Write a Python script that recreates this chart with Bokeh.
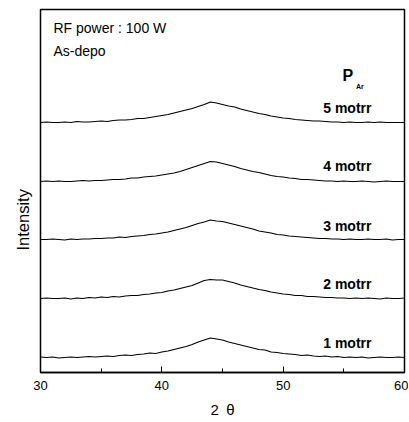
import math
from bokeh.plotting import figure
from bokeh.models import Range1d, FixedTicker, Label, Title
from bokeh.embed import file_html
from bokeh.resources import INLINE

# 2-theta grid (degrees)
theta = [30.0 + 0.5 * i for i in range(61)]

# hump intensities above each curve's own baseline (arbitrary units)
s1 = [0.5, 0, 0.5, -0.5, 0, 0.5, 0, 0.5, 1, 0.5,
      1, 1.5, 1, 2, 2.5, 2, 3, 3.5, 4.5, 4,
      5.5, 6.5, 8, 9.5, 11, 13, 15.5, 17.5, 19.5, 18.5,
      17.5, 15.5, 14, 12.5, 11, 9.5, 8, 7.5, 5.5, 5,
      4, 3.5, 3, 2, 2.5, 1.5, 1, 1.5, 0.5, 1,
      0, 0.5, 0, 0.5, -0.5, 0, 0.5, 0, 0, 0.5,
      0]
s2 = [0, 0.5, 0, 0, 0.5, -0.5, 0.5, 0, 1, 0.5,
      1.5, 1, 2, 1.5, 2.5, 3, 3, 4, 4.5, 5.5,
      6, 7.5, 8.5, 10, 11.5, 13, 15.5, 18, 19, 18.5,
      18.5, 17, 15.5, 13.5, 12, 10.5, 9, 8, 6.5, 5.5,
      4.5, 4, 3, 3, 2, 2, 1.5, 1, 1, 0.5,
      0.5, 0, 0.5, 0, 0.5, 0, -0.5, 0.5, 0, 0,
      0.5]
s3 = [0, 0, 0.5, 0, -0.5, 0.5, 0, 0.5, 0.5, 1,
      1, 1.5, 1.5, 2.5, 2, 3, 3.5, 4, 5, 5.5,
      6.5, 7.5, 9, 10.5, 12, 14, 16, 17.5, 19.5, 18.5,
      18, 16.5, 15, 13.5, 12, 10.5, 8.5, 7.5, 6.5, 5,
      4.5, 3.5, 3, 2.5, 2, 1.5, 1, 1, 0.5, 0.5,
      0, 0.5, 0, 0, 0.5, 0, 0, 0.5, -0.5, 0,
      0]
s4 = [0, 0.5, 0, 0.5, 0, 0, 0.5, 1, 0.5, 1,
      1, 1.5, 2, 2, 2.5, 3.5, 3.5, 4.5, 5, 5.5,
      6.5, 7.5, 8.5, 10, 12, 14, 16, 18, 20, 19.5,
      18, 16.5, 15, 13, 11.5, 10, 9, 7.5, 6, 5,
      4.5, 3.5, 3, 2, 2, 1.5, 1, 0.5, 0.5, 0,
      0.5, 0, 0, 0.5, 0, -0.5, 0, 0.5, 0, 0,
      0]
s5 = [0, 0.5, 0, 0, 0.5, 0, 1, 0.5, 0.5, 1,
      1.5, 1, 2, 2.5, 2.5, 3, 4, 4, 5, 6,
      7, 8, 9.5, 11, 12.5, 14, 16, 18, 20.5, 19.5,
      18, 16.5, 15.5, 13.5, 12, 10.5, 9, 8, 6.5, 5.5,
      4.5, 4, 3, 2.5, 2, 1.5, 1.5, 1, 0.5, 0.5,
      0, 0.5, 0, 0, 0.5, 0, 0.5, 0, 0, 0,
      0]
series = [s1, s2, s3, s4, s5]
offsets = [15, 74, 133, 191, 250]
names = ["1 motrr", "2 motrr", "3 motrr", "4 motrr", "5 motrr"]
label_y = [22, 81, 139, 199, 257]

xticks = [30, 40, 50, 60]

p = figure(width=408, height=420, output_backend="svg", toolbar_location=None,
           x_range=Range1d(30, 60), y_range=Range1d(0, 363),
           min_border_left=40, min_border_right=4, min_border_top=9,
           min_border_bottom=48)
p.grid.visible = False
p.background_fill_color = "white"
p.border_fill_color = "white"
p.outline_line_color = "black"
p.outline_line_width = 1.5
p.yaxis.visible = False

ax = p.xaxis[0]
ax.ticker = FixedTicker(ticks=xticks, minor_ticks=[35, 45, 55])
ax.axis_line_color = "black"
ax.axis_line_width = 1.5
ax.major_tick_in = 6
ax.major_tick_out = 0
ax.minor_tick_in = 4
ax.minor_tick_out = 0
ax.major_tick_line_color = "black"
ax.minor_tick_line_color = "black"
ax.major_label_text_font = "Liberation Sans"
ax.major_label_text_font_size = "13px"
ax.major_label_text_color = "black"
ax.major_label_standoff = 8
ax.axis_label = "2\u2002\u03b8"
ax.axis_label_text_font = "Liberation Sans"
ax.axis_label_text_font_size = "15px"
ax.axis_label_text_font_style = "normal"
ax.axis_label_text_color = "black"
ax.axis_label_standoff = 8

for s, off in zip(series, offsets):
    ys = [v + off for v in s]
    p.line(theta, ys, line_color="black", line_width=1.2)

for n, ly in zip(names, label_y):
    p.add_layout(Label(x=53.3, y=ly, text=n, text_font="Liberation Sans",
                       text_font_size="14px", text_font_style="bold",
                       text_color="black"))

p.add_layout(Label(x=31.07, y=337, text="RF power : 100 W", text_font="Liberation Sans",
                   text_font_size="14px", text_color="black"))
p.add_layout(Label(x=31.07, y=314, text="As-depo", text_font="Liberation Sans",
                   text_font_size="14px", text_color="black"))
p.add_layout(Label(x=54.9, y=289, text="P", text_font="Liberation Sans",
                   text_font_size="16px", text_font_style="bold", text_color="black"))
p.add_layout(Label(x=56.0, y=283, text="Ar", text_font="Liberation Sans",
                   text_font_size="7px", text_font_style="bold", text_color="black"))

ytitle = Title(text="Intensity", align="left", offset=122, standoff=18,
               text_font="Liberation Sans", text_font_size="16.5px",
               text_font_style="normal", text_color="black")
p.add_layout(ytitle, "left")

open("out.html", "w").write(file_html(p, INLINE))
